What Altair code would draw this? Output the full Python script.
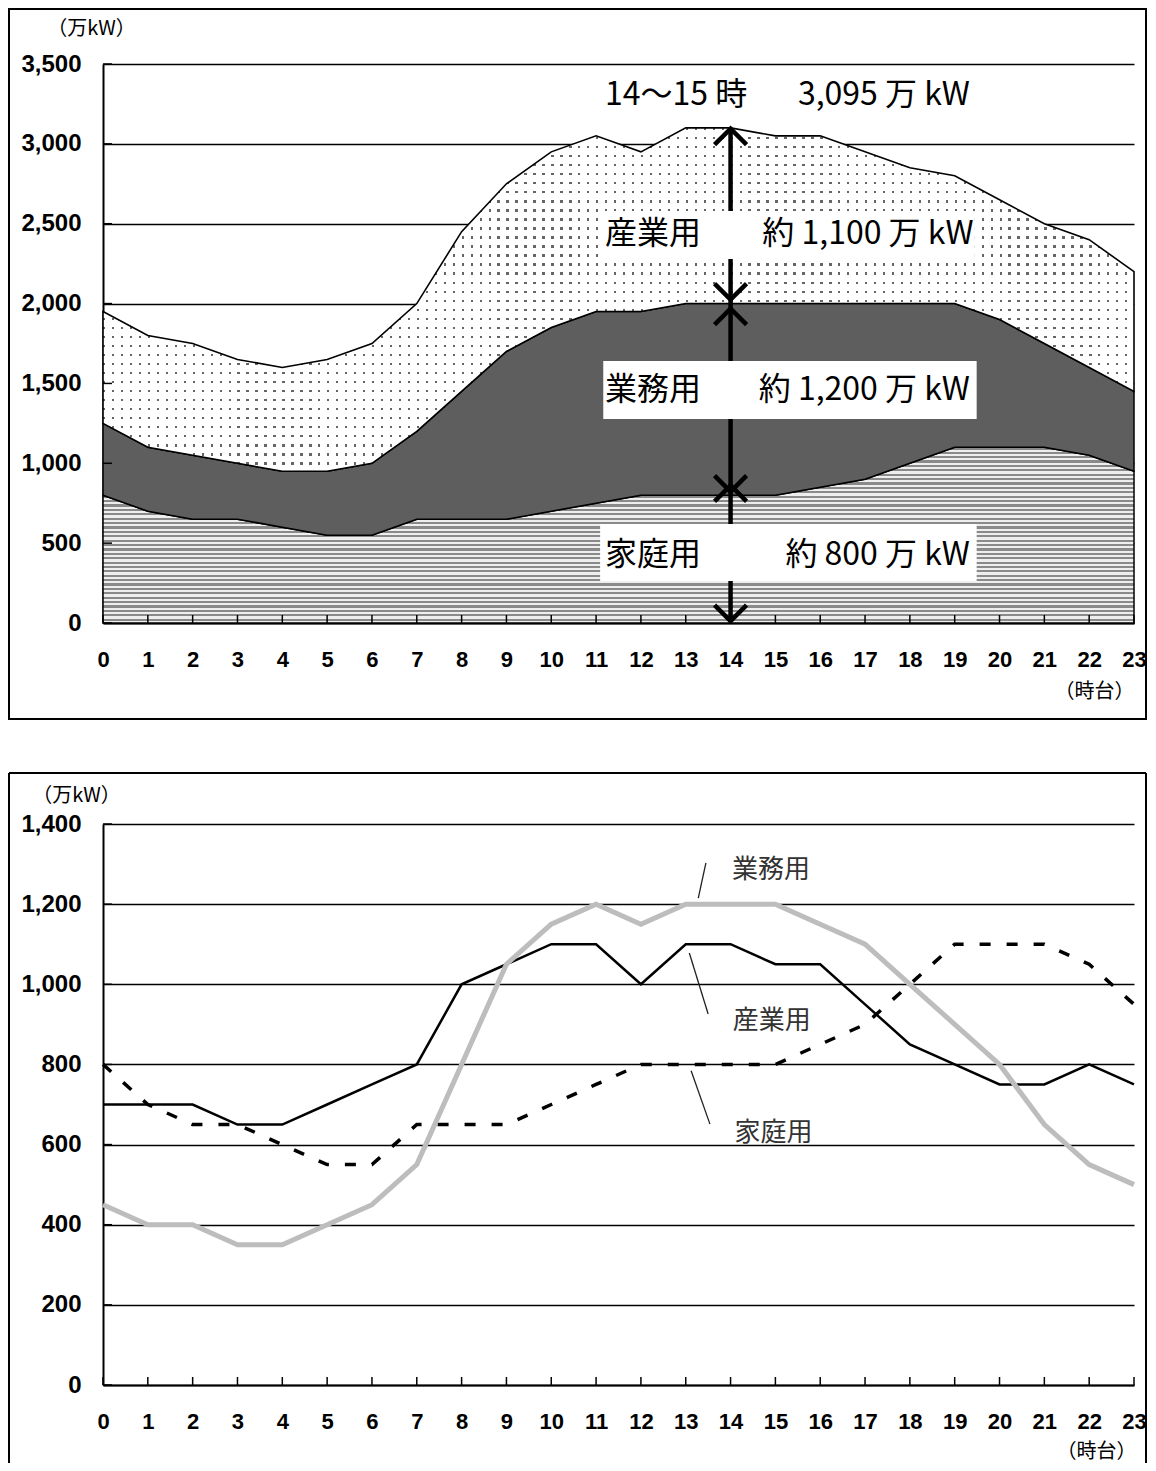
import altair as alt
import pandas as pd

# ---------------- data ----------------
hours = list(range(24))
katei = [800, 700, 650, 650, 600, 550, 550, 650, 650, 650, 700, 750,
         800, 800, 800, 800, 850, 900, 1000, 1100, 1100, 1100, 1050, 950]      # 家庭用
gyomu = [450, 400, 400, 350, 350, 400, 450, 550, 800, 1050, 1150, 1200,
         1150, 1200, 1200, 1200, 1150, 1100, 1000, 900, 800, 650, 550, 500]    # 業務用
sangyo = [700, 700, 700, 650, 650, 700, 750, 800, 1000, 1050, 1100, 1100,
          1000, 1100, 1100, 1050, 1050, 950, 850, 800, 750, 750, 800, 750]     # 産業用

y_ticks_top = [0, 500, 1000, 1500, 2000, 2500, 3000, 3500]
y_ticks_bot = [0, 200, 400, 600, 800, 1000, 1200, 1400]

peak_label = ["14～15 時", "3,095 万 kW"]
box_labels = [("産業用", "約 1,100 万 kW"), ("業務用", "約 1,200 万 kW"), ("家庭用", "約 800 万 kW")]

FONT_JP = "Noto Sans CJK JP"
FONT_NUM = "Liberation Sans"

W1, H1 = 1031, 559
W2, H2 = 1031, 561
FR_L, FR_R = -94, 12          # frame offsets from the plot area (left, right)

df = pd.DataFrame({"hour": hours, "katei": katei, "gyomu": gyomu, "sangyo": sangyo})
df["k_top"] = df["katei"]
df["g_top"] = df["katei"] + df["gyomu"]
df["s_top"] = df["g_top"] + df["sangyo"]
df["zero"] = 0

one = pd.DataFrame({"a": [0]})


# ---------------- helpers ----------------
def stripes(n, c1, c2, frac, rows=True):
    stops = []
    for i in range(n):
        a = round(i / n, 5)
        b = round((i + frac) / n, 5)
        c = round((i + 1) / n, 5)
        stops += [alt.GradientStop(offset=a, color=c1), alt.GradientStop(offset=b, color=c1),
                  alt.GradientStop(offset=b, color=c2), alt.GradientStop(offset=c, color=c2)]
    if rows:
        return alt.LinearGradient(gradient="linear", stops=stops, x1=0, x2=0, y1=0, y2=1)
    return alt.LinearGradient(gradient="linear", stops=stops, x1=0, x2=1, y1=0, y2=0)


def X(field, title_x, title_y):
    return alt.X(field, type="quantitative",
                 scale=alt.Scale(domain=[0, 23], nice=False, zero=False),
                 axis=alt.Axis(values=hours, format="d", labelFontSize=22, labelFont=FONT_NUM,
                               labelFontWeight="bold",
                               labelColor="black", labelPadding=26, labelFlush=False,
                               labelOverlap=False, ticks=False, grid=False,
                               domainColor="black", domainWidth=2,
                               title="（時台）", titleFont=FONT_JP, titleFontSize=20,
                               titleFontWeight="normal", titleColor="black",
                               titleAngle=0, titleAlign="right", titleBaseline="middle",
                               titleX=title_x, titleY=title_y))


def Y(field, domain, ticks, pad, title_x, title_y):
    return alt.Y(field, type="quantitative",
                 scale=alt.Scale(domain=domain, nice=False),
                 axis=alt.Axis(values=ticks, format=",d", labelFontSize=24, labelFont=FONT_NUM,
                               labelFontWeight="bold",
                               labelColor="black", labelPadding=pad, labelFlush=False,
                               ticks=False, grid=True, gridColor="black", gridWidth=1.6,
                               domainColor="black", domainWidth=2,
                               title="（万kW）", titleFont=FONT_JP, titleFontSize=20,
                               titleFontWeight="normal", titleColor="black",
                               titleAngle=0, titleAlign="center", titleBaseline="middle",
                               titleX=title_x, titleY=title_y))


# ---------------- top chart ----------------
XT = lambda f: X(f, 1031, 68)
YT = lambda f: Y(f, [0, 3500], y_ticks_top, 22, -12, -36)

k_h = max(df["k_top"]) / 3500 * H1
s_h = (max(df["s_top"]) - min(df["g_top"])) / 3500 * H1

base = alt.Chart(df)

area_katei = base.mark_area(fill=stripes(int(round(k_h / 4.4)), "#8a8a8a", "#eeeeee", 0.5),
                            stroke="black", strokeWidth=1.5).encode(
    x=XT("hour"), y=YT("k_top"), y2="zero")
area_gyomu = base.mark_area(fill="#5e5e5e", stroke="black", strokeWidth=1.5).encode(
    x=XT("hour"), y=YT("g_top"), y2="k_top")
area_s_white = base.mark_area(fill="white").encode(x=XT("hour"), y=YT("s_top"), y2="g_top")
area_s_rows = base.mark_area(fill=stripes(int(round(s_h / 9)), "#666666", "rgba(255,255,255,0)", 0.26)).encode(
    x=XT("hour"), y=YT("s_top"), y2="g_top")
area_s_mask = base.mark_area(fill=stripes(int(round(W1 / 9)), "rgba(255,255,255,0)", "white", 0.26, rows=False)).encode(
    x=XT("hour"), y=YT("s_top"), y2="g_top")
area_s_line = base.mark_area(fill="white", fillOpacity=0, stroke="black", strokeWidth=1.6).encode(
    x=XT("hour"), y=YT("s_top"), y2="g_top")

xticks_top = base.mark_rule(color="black", strokeWidth=1.5).encode(
    x=XT("hour"), y=alt.value(H1 - 8), y2=alt.value(H1))
yticks_top = alt.Chart(pd.DataFrame({"v": y_ticks_top})).mark_rule(color="black", strokeWidth=1.5).encode(
    y=YT("v"), x=alt.value(0), x2=alt.value(9))

arrow_x = 14
arrow_line = alt.Chart(pd.DataFrame({"x": [arrow_x], "y": [3080], "y2": [5]})).mark_rule(
    color="black", strokeWidth=4.5).encode(x=XT("x"), y=YT("y"), y2="y2")

boxes = pd.DataFrame({
    "x": [11.07, 11.16, 11.09], "x2": [19.45, 19.49, 19.49],
    "y": [2279, 1277, 263], "y2": [2580, 1640, 620]})
box_layer = alt.Chart(boxes).mark_rect(fill="white").encode(
    x=XT("x"), x2="x2", y=YT("y"), y2="y2")

heads_up = alt.Chart(pd.DataFrame({"x": [arrow_x] * 3, "y": [3095, 1968, 862]})).mark_point(
    shape="M -1 1 L 0 0 L 1 1", size=1024, filled=False, stroke="black", strokeWidth=4.5,
    opacity=1).encode(x=XT("x"), y=YT("y"))
heads_down = alt.Chart(pd.DataFrame({"x": [arrow_x] * 3, "y": [2025, 822, 12]})).mark_point(
    shape="M -1 -1 L 0 0 L 1 -1", size=1024, filled=False, stroke="black", strokeWidth=4.5,
    opacity=1).encode(x=XT("x"), y=YT("y"))

left_txt = pd.DataFrame({"x": [11.2] * 4, "y": [3306, 2436, 1459, 426],
                         "t": [peak_label[0]] + [b[0] for b in box_labels]})
right_txt = pd.DataFrame({"x": [19.34, 19.42, 19.34, 19.34], "y": [3306, 2436, 1459, 426],
                          "t": [peak_label[1]] + [b[1] for b in box_labels]})
txt_l = alt.Chart(left_txt).mark_text(align="left", baseline="middle", font=FONT_JP, fontSize=32,
                                      color="black").encode(x=XT("x"), y=YT("y"), text="t:N")
txt_r = alt.Chart(right_txt).mark_text(align="right", baseline="middle", font=FONT_JP, fontSize=32,
                                       color="black").encode(x=XT("x"), y=YT("y"), text="t:N")

frame_top = alt.Chart(one).mark_rect(fill="white", fillOpacity=0, stroke="black", strokeWidth=2).encode(
    x=alt.value(FR_L), x2=alt.value(W1 + FR_R), y=alt.value(-55), y2=alt.value(H1 + 96))

top = alt.layer(area_katei, area_gyomu, area_s_white, area_s_rows, area_s_mask, area_s_line,
                xticks_top, yticks_top, arrow_line, box_layer, heads_up, heads_down,
                txt_l, txt_r, frame_top).properties(width=W1, height=H1)

# ---------------- bottom chart ----------------
XB = lambda f: X(f, 1033, 66)
YB = lambda f: Y(f, [0, 1400], y_ticks_bot, 22, -27, -29)

line_katei = base.mark_line(color="black", strokeWidth=3.5, strokeDash=[11, 16]).encode(
    x=XB("hour"), y=YB("katei"))
line_sangyo = base.mark_line(color="black", strokeWidth=2.5).encode(x=XB("hour"), y=YB("sangyo"))
line_gyomu = base.mark_line(color="#bdbdbd", strokeWidth=5).encode(x=XB("hour"), y=YB("gyomu"))

xticks_bot = base.mark_rule(color="black", strokeWidth=1.5).encode(
    x=XB("hour"), y=alt.value(H2 - 8), y2=alt.value(H2))
yticks_bot = alt.Chart(pd.DataFrame({"v": y_ticks_bot})).mark_rule(color="black", strokeWidth=1.5).encode(
    y=YB("v"), x=alt.value(0), x2=alt.value(9))

leaders = pd.DataFrame({"x": [13.45, 13.08, 13.12], "y": [1303, 1078, 784],
                        "x2": [13.28, 13.50, 13.54], "y2": [1215, 926, 651]})
leader_layer = alt.Chart(leaders).mark_rule(color="#222222", strokeWidth=1.3).encode(
    x=XB("x"), y=YB("y"), x2="x2", y2="y2")
series_lbl = pd.DataFrame({"x": [14.90, 14.92, 14.96], "y": [1285, 908, 629],
                           "t": [box_labels[1][0], box_labels[0][0], box_labels[2][0]]})
series_txt = alt.Chart(series_lbl).mark_text(align="center", baseline="middle", font=FONT_JP,
                                             fontSize=26, color="#333333").encode(
    x=XB("x"), y=YB("y"), text="t:N")

# frame of the lower panel: its bottom edge falls below the page, so only three sides
fb_left, fb_right, fb_top, fb_bot = FR_L, W2 + FR_R, -51, H2 + 78
frame_bot_top = alt.Chart(one).mark_rule(color="black", strokeWidth=2).encode(
    x=alt.value(fb_left), x2=alt.value(fb_right), y=alt.value(fb_top))
frame_bot_l = alt.Chart(one).mark_rule(color="black", strokeWidth=2).encode(
    x=alt.value(fb_left), y=alt.value(fb_top), y2=alt.value(fb_bot))
frame_bot_r = alt.Chart(one).mark_rule(color="black", strokeWidth=2).encode(
    x=alt.value(fb_right), y=alt.value(fb_top), y2=alt.value(fb_bot))

bottom = alt.layer(line_katei, line_sangyo, line_gyomu, xticks_bot, yticks_bot,
                   leader_layer, series_txt, frame_bot_top, frame_bot_l, frame_bot_r
                   ).properties(width=W2, height=H2)

chart = alt.vconcat(top, bottom, spacing=52).properties(
    padding=0, background="white"
).configure_view(stroke=None)

chart.save("out.html", embed_options={"renderer": "svg", "actions": False})
